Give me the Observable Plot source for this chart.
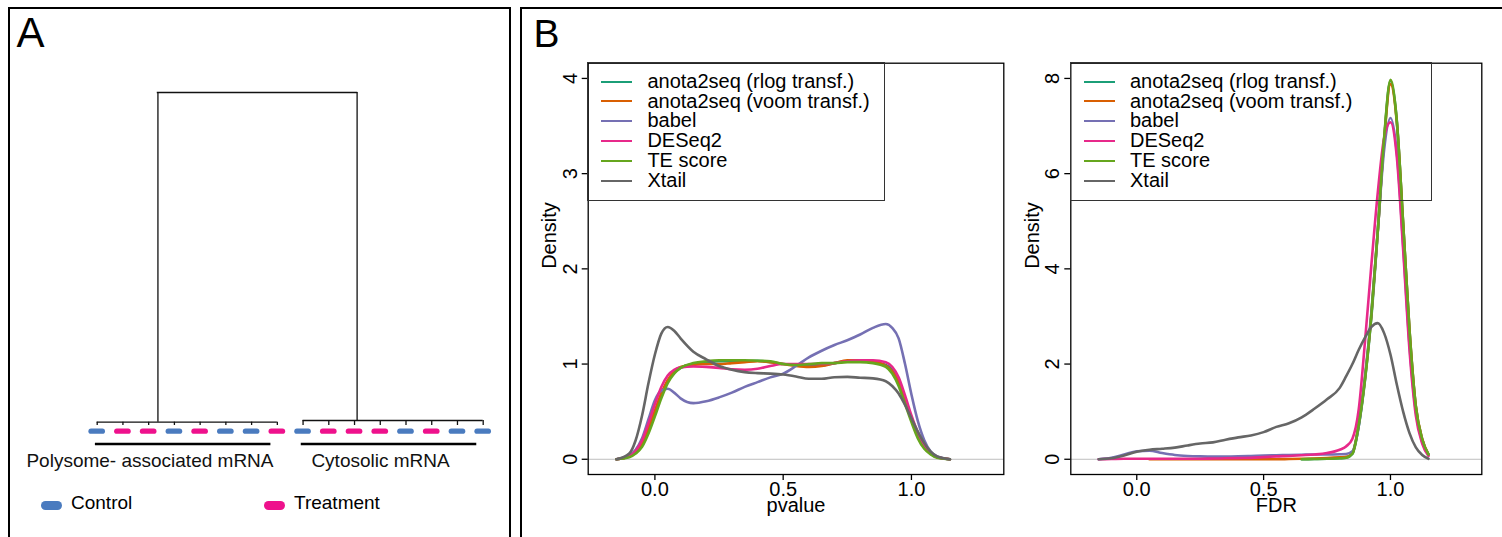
<!DOCTYPE html>
<html>
<head>
<meta charset="utf-8">
<script src="https://cdn.jsdelivr.net/npm/d3@7"></script>
<script src="https://cdn.jsdelivr.net/npm/@observablehq/plot@0.6"></script>
<style>
html, body { margin: 0; padding: 0; background: #fff; }
#root { position: relative; width: 1502px; height: 537px; overflow: hidden; background: #fff;
  font-family: "Liberation Sans", Arial, Helvetica, sans-serif; color: #000; }
#root > svg, #root > .abs { position: absolute; }
.panel { position: absolute; box-sizing: border-box; border: 2.5px solid #000; }
.tag { position: absolute; line-height: 1; }
.lgbox { position: absolute; box-sizing: border-box; border: 1.3px solid #333; padding-top: 8.75px; }
.lgb-swatches { margin: 0; font-family: "Liberation Sans", Arial, Helvetica, sans-serif; font-size: 20px; color: #000; }
.lgb-swatch { height: 19.8px; padding-bottom: 0; }
.lgb-swatch > svg { margin-left: 13.35px; margin-right: 15px; }
.lgb-swatch-label { overflow: visible; line-height: 19.8px; }
.lga-swatches { position: absolute; left: 41px; top: 492px; margin: 0; min-height: 0; flex-wrap: nowrap;
  font-family: "Liberation Sans", Arial, Helvetica, sans-serif; font-size: 19px; color: #000; }
.lga-swatch { width: 223px; margin-right: 0; }
.lga-swatch > svg { margin-right: 9px; position: relative; top: 2px; }
.lga-swatch rect { rx: 4.5px; ry: 4.5px; }
</style>
</head>
<body>
<div id="root"></div>
<script>
// ---------------- Panel A data (dendrogram of samples) ----------------
const conditions = ["Control", "Treatment"];
const conditionColors = ["#4a7bbf", "#ee118c"];
const leafCondition = [
  "Control", "Treatment", "Treatment", "Control", "Treatment", "Control", "Control", "Treatment",
  "Control", "Treatment", "Treatment", "Treatment", "Control", "Treatment", "Control", "Control"
];
const groupNames = ["Polysome- associated mRNA", "Cytosolic mRNA"];
const groupSizes = [8, 8];
const groupMergeHeight = [0.010, 0.015];   // within-cluster merge heights (relative to root)
const groupStem = [2.36, 10.1];            // leaf-order coordinate of each cluster's stem
const rootHeight = 1;

// ---------------- Panel B data (density estimates) ----------------
const methods = ["anota2seq (rlog transf.)", "anota2seq (voom transf.)", "babel", "DESeq2", "TE score", "Xtail"];
const methodColors = ["#1B9E77", "#D95F02", "#7570B3", "#E7298A", "#66A61E", "#666666"];

const pvalueGrid = [-0.15, -0.1, -0.075, -0.05, -0.025, 0, 0.025, 0.05, 0.075, 0.1, 0.15, 0.2, 0.25, 0.3, 0.35, 0.4, 0.45, 0.5,
  0.55, 0.6, 0.65, 0.7, 0.75, 0.8, 0.85, 0.9, 0.925, 0.95, 0.975, 1.0, 1.025, 1.05, 1.075, 1.1, 1.15];
const pvalueRlog = [0, 0.03, 0.08, 0.17, 0.32, 0.5, 0.68, 0.82, 0.91, 0.96, 1.0, 1.02, 1.03, 1.03, 1.03, 1.035, 1.02, 1.0,
  0.99, 0.98, 0.985, 1.01, 1.03, 1.03, 1.02, 0.99, 0.94, 0.82, 0.62, 0.42, 0.25, 0.13, 0.06, 0.02, 0];
const pvalueVoom = [0, 0.03, 0.08, 0.17, 0.33, 0.51, 0.69, 0.83, 0.92, 0.97, 0.99, 1.0, 1.0, 1.01, 1.02, 1.03, 1.02, 1.0,
  0.98, 0.97, 0.98, 1.01, 1.04, 1.04, 1.03, 0.98, 0.92, 0.81, 0.62, 0.42, 0.25, 0.13, 0.06, 0.02, 0];
const pvalueBabel = [0, 0.04, 0.1, 0.22, 0.42, 0.62, 0.72, 0.74, 0.7, 0.64, 0.59, 0.61, 0.65, 0.7, 0.76, 0.81, 0.86, 0.9,
  0.98, 1.07, 1.14, 1.2, 1.25, 1.31, 1.38, 1.42, 1.38, 1.27, 1.0, 0.68, 0.4, 0.2, 0.08, 0.03, 0];
const pvalueDESeq2 = [0, 0.03, 0.09, 0.2, 0.38, 0.58, 0.76, 0.88, 0.94, 0.965, 0.975, 0.97, 0.96, 0.945, 0.94, 0.95, 0.98, 1.0,
  1.0, 1.0, 1.0, 1.01, 1.03, 1.04, 1.04, 1.02, 0.97, 0.86, 0.67, 0.46, 0.28, 0.14, 0.06, 0.02, 0];
const pvalueTE = [0, 0.02, 0.06, 0.13, 0.27, 0.45, 0.64, 0.8, 0.9, 0.96, 1.01, 1.03, 1.04, 1.04, 1.04, 1.035, 1.03, 1.0,
  0.99, 1.0, 1.01, 1.01, 1.02, 1.02, 1.01, 0.97, 0.9, 0.77, 0.58, 0.39, 0.22, 0.11, 0.05, 0.015, 0];
const pvalueXtail = [0, 0.06, 0.2, 0.46, 0.8, 1.1, 1.32, 1.39, 1.35, 1.27, 1.13, 1.05, 0.98, 0.94, 0.915, 0.905, 0.9, 0.89,
  0.87, 0.845, 0.845, 0.862, 0.865, 0.857, 0.85, 0.82, 0.77, 0.69, 0.57, 0.43, 0.29, 0.17, 0.08, 0.03, 0];

const fdrGrid = [-0.15, -0.1, -0.05, 0, 0.05, 0.1, 0.15, 0.2, 0.25, 0.3, 0.35, 0.4, 0.45, 0.5, 0.55, 0.6, 0.65, 0.7, 0.75,
  0.8, 0.825, 0.85, 0.875, 0.9, 0.925, 0.95, 0.975, 1.0, 1.025, 1.05, 1.075, 1.1, 1.125, 1.15];
const fdrRlog = [null, null, null, null, null, null, null, null, null, null, null, null, null, null, null, null,
  0, 0.005, 0.01, 0.02, 0.03, 0.11, 0.7, 1.68, 3.0, 4.78, 6.72, 7.95, 7.12, 4.96, 2.72, 1.11, 0.42, 0.1];
const fdrVoom = [null, null, null, null, 0, 0, 0, 0, 0, 0, 0, 0, 0, 0, 0, 0.005,
  0.01, 0.015, 0.025, 0.04, 0.05, 0.13, 0.75, 1.72, 3.05, 4.78, 6.7, 7.88, 7.08, 4.95, 2.72, 1.12, 0.43, 0.1];
const fdrBabel = [0, 0.03, 0.1, 0.17, 0.18, 0.13, 0.09, 0.07, 0.06, 0.055, 0.055, 0.06, 0.07, 0.08, 0.085, 0.09,
  0.095, 0.1, 0.1, 0.105, 0.11, 0.17, 0.7, 1.75, 3.1, 4.8, 6.5, 7.17, 6.45, 4.5, 2.4, 1.0, 0.37, 0.09];
const fdrDESeq2 = [0, 0.005, 0.01, 0.01, 0.01, 0.01, 0.01, 0.01, 0.01, 0.015, 0.02, 0.025, 0.03, 0.045, 0.06, 0.07,
  0.085, 0.1, 0.13, 0.2, 0.27, 0.43, 1.05, 2.5, 4.1, 5.6, 6.75, 7.08, 6.35, 4.4, 2.3, 0.92, 0.33, 0.07];
const fdrTE = [null, null, null, null, null, null, null, null, null, null, null, null, null, null, null, null,
  0, 0.005, 0.01, 0.02, 0.03, 0.12, 0.72, 1.7, 3.05, 4.8, 6.75, 7.97, 7.1, 4.94, 2.7, 1.1, 0.42, 0.1];
const fdrXtail = [0, 0.02, 0.08, 0.16, 0.2, 0.22, 0.245, 0.29, 0.33, 0.355, 0.41, 0.46, 0.5, 0.57, 0.68, 0.755,
  0.88, 1.06, 1.26, 1.5, 1.74, 2.0, 2.3, 2.56, 2.78, 2.86, 2.65, 2.2, 1.57, 1.0, 0.55, 0.25, 0.09, 0.01];

const pvalueSeries = [pvalueRlog, pvalueVoom, pvalueBabel, pvalueDESeq2, pvalueTE, pvalueXtail];
const fdrSeries = [fdrRlog, fdrVoom, fdrBabel, fdrDESeq2, fdrTE, fdrXtail];
const pvalueTicksY = [0, 1, 2, 3, 4];
const fdrTicksY = [0, 2, 4, 6, 8];
const ticksX = [0, 0.5, 1];

// ---------------- build ----------------
const FONT = '"Liberation Sans", Arial, Helvetica, sans-serif';
const root = document.getElementById("root");
function place(el, left, top) { el.style.position = "absolute"; el.style.left = left + "px"; el.style.top = top + "px"; root.appendChild(el); return el; }

// Panel A
let start = 0;
const groups = groupNames.map((name, k) => {
  const g = {name, first: start, last: start + groupSizes[k] - 1, h: groupMergeHeight[k], stem: groupStem[k]};
  start += groupSizes[k];
  return g;
});
const leaves = leafCondition.map((condition, i) => ({i, condition, group: groups.findIndex(g => i >= g.first && i <= g.last)}));
const labelDx = [-37.3, -12.6];

const plotA = Plot.plot({
  width: 510, height: 537,
  marginLeft: 96.7, marginRight: 27.3, marginTop: 92, marginBottom: 112,
  x: {domain: [0, leaves.length - 1], axis: null},
  y: {domain: [0, rootHeight], axis: null},
  color: {domain: conditions, range: conditionColors},
  style: {background: "transparent", fontFamily: FONT, overflow: "visible"},
  marks: [
    Plot.ruleX(leaves, {x: "i", y1: 0, y2: d => groupMergeHeight[d.group], stroke: "#111", strokeWidth: 1.3}),
    Plot.ruleY(groups, {y: "h", x1: "first", x2: "last", stroke: "#111", strokeWidth: 1.3}),
    Plot.ruleX(groups, {x: "stem", y1: "h", y2: rootHeight, stroke: "#111", strokeWidth: 1.3}),
    Plot.ruleY([rootHeight], {x1: groups[0].stem, x2: groups[1].stem, stroke: "#111", strokeWidth: 1.3, strokeLinecap: "square"}),
    Plot.ruleY(leaves, {y: 0, dy: 5.7, x1: d => d.i - 0.22, x2: d => d.i + 0.22, stroke: "condition", strokeWidth: 5.3, strokeLinecap: "round"}),
    Plot.ruleY(groups, {y: 0, dy: 18.5, x1: d => d.first - 0.07, x2: d => d.last - 0.25, stroke: "#000", strokeWidth: 2.7}),
    ...groups.map((g, k) => Plot.text([g], {x: d => (d.first + d.last) / 2, y: 0, dy: 41.7, dx: labelDx[k], text: "name",
      lineAnchor: "bottom", fontSize: 19, fill: "#111"}))
  ]
});
place(plotA, 0, 0);

const legA = Plot.legend({color: {domain: conditions, range: conditionColors}, legend: "swatches",
  swatchWidth: 21, swatchHeight: 9, className: "lga"});
root.appendChild(legA);

// Panel B
function densityPlot({grid, series, yMax, yTicks, xlabel, width, marginLeft, marginRight}) {
  const rows = [];
  methods.forEach((m, k) => series[k].forEach((v, j) => { if (v != null) rows.push({method: m, x: grid[j], y: v}); }));
  return Plot.plot({
    width, height: 537, marginLeft, marginRight, marginTop: 62.7, marginBottom: 63,
    x: {domain: [-0.26, 1.36], axis: null},
    y: {domain: [-0.04 * yMax, 1.04 * yMax], axis: null},
    color: {domain: methods, range: methodColors},
    style: {background: "transparent", fontFamily: FONT, overflow: "visible", color: "#000"},
    marks: [
      Plot.ruleY([0], {stroke: "#bebebe", strokeWidth: 1}),
      Plot.line(rows, {x: "x", y: "y", z: "method", stroke: "method", strokeWidth: 2.6, curve: "monotone-x"}),
      Plot.frame({stroke: "#000", strokeWidth: 1.3}),
      Plot.axisX({ticks: ticksX, tickFormat: d3.format(".1f"), tickSize: 6, tickPadding: 1, fontSize: 20, label: null, strokeWidth: 1.3}),
      Plot.axisY({ticks: yTicks, tickFormat: d3.format("d"), tickSize: 6, tickRotate: -90, tickPadding: 5.5, fontSize: 20, label: null, strokeWidth: 1.3}),
      Plot.text([xlabel], {frameAnchor: "bottom", dy: 31.5, text: d => d, fontSize: 20, lineAnchor: "middle", fill: "#000"}),
      Plot.text(["Density"], {frameAnchor: "left", dx: -38.7, rotate: -90, text: d => d, fontSize: 20, lineAnchor: "middle", fill: "#000"})
    ]
  });
}

const plotP = densityPlot({grid: pvalueGrid, series: pvalueSeries, yMax: 4, yTicks: pvalueTicksY, xlabel: "pvalue",
  width: 484, marginLeft: 65.7, marginRight: 2.7});
place(plotP, 522, 0);
const plotF = densityPlot({grid: fdrGrid, series: fdrSeries, yMax: 8, yTicks: fdrTicksY, xlabel: "FDR",
  width: 498, marginLeft: 66.3, marginRight: 20.7});
place(plotF, 1004, 0);

function legendBox(left, width) {
  const box = document.createElement("div");
  box.className = "lgbox";
  box.style.left = left + "px"; box.style.top = "62.05px";
  box.style.width = width + "px"; box.style.height = "139.3px";
  box.appendChild(Plot.legend({color: {domain: methods, range: methodColors}, legend: "swatches", columns: 1,
    swatchWidth: 31, swatchHeight: 2, className: "lgb"}));
  root.appendChild(box);
}
legendBox(587.05, 297.6);
legendBox(1069.65, 362.3);

// Panel frames and tags
function panel(left, top, width, height, bw) {
  const d = document.createElement("div"); d.className = "panel";
  Object.assign(d.style, {left: left + "px", top: top + "px", width: width + "px", height: height + "px", borderWidth: bw + "px"});
  root.appendChild(d);
}
panel(8.2, 7.2, 502.8, 600, 2.4);
panel(520.3, 7.3, 1100, 600, 2.7);

function tag(text, left, top, size) {
  const d = document.createElement("div"); d.className = "tag"; d.textContent = text;
  Object.assign(d.style, {left: left + "px", top: top + "px", fontSize: size + "px"});
  root.appendChild(d);
}
tag("A", 16.5, 11.9, 42);
tag("B", 533.5, 13.5, 39);
</script>
</body>
</html>
